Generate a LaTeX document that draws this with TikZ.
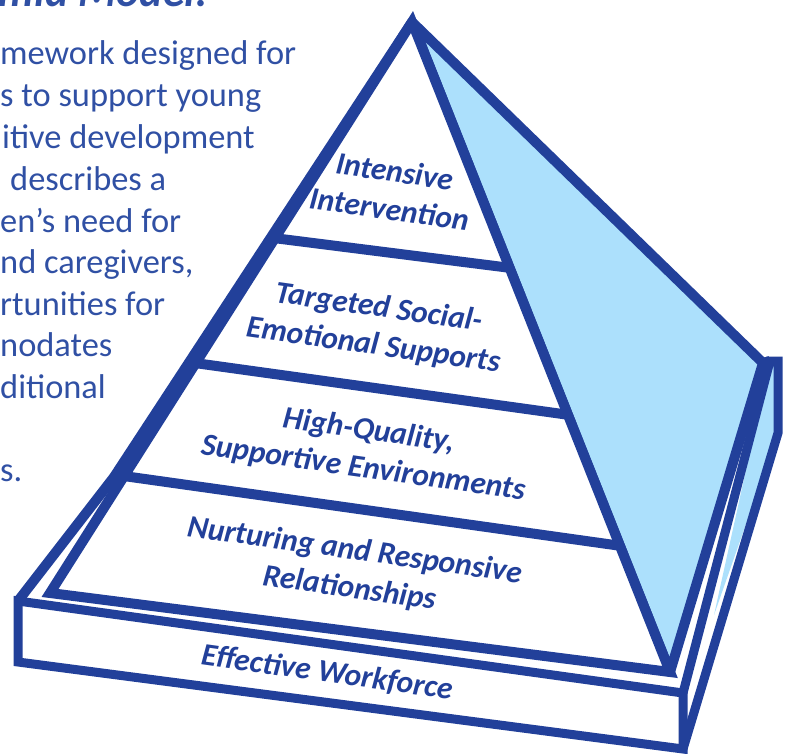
\documentclass[tikz,border=0pt]{standalone}
\usepackage{fontspec}
\setmainfont{Carlito}[Ligatures=Common]
\definecolor{pblue}{RGB}{34,64,154}
\definecolor{sky}{RGB}{172,224,252}
\definecolor{tblue}{RGB}{48,80,164}
\tikzset{edge/.style = {draw = pblue, line width = 10pt, line join = round},
  slab/.style = {draw = pblue, line width = 9pt, line join = miter},
  tier/.style = {pblue, font = \fontsize{31.5}{38}\selectfont\bfseries\itshape, align = center, rotate = -8, inner sep = 0},
  para/.style = {tblue, font = \fontsize{34.4}{40}\selectfont, anchor = base west, inner sep = 0},
  head/.style = {tblue, font = \fontsize{44}{44}\selectfont\bfseries\itshape, anchor = base east, inner sep = 0}}

\begin{document}
\begin{tikzpicture}[x = 1pt, y = -1pt]

      \useasboundingbox (0, 0) rectangle (789, 754);
      \clip (0, 0) rectangle (789, 754);

      \node [head] (title) at (208, 7) {Pyramid Model:};
      \foreach \xx/\yy/\txt [count = \i] in {0/65/mework designed for, 0/107/s to support young,
        2/149/itive development, 10/190/describes a, 0/232/en’s need for, 0/273/{nd caregivers,},
        0/315/rtunities for, 0/356/nodates, 0/398/ditional, 0/481/s.}
        \node [para] (line\i) at (\xx, \yy) {\txt};

      \fill [sky] (770, 361) -- (778, 361) -- (778, 433) -- (714, 615) -- cycle;
      \filldraw [slab, fill = white] (18, 601) -- (683, 693) -- (683, 749) -- (18, 662) -- cycle;
      \draw [slab] (683, 693) -- (770, 361) -- (778, 361) -- (778, 433) -- (683, 749);
      \draw [edge] (412, 22) -- (114, 477) -- (18, 601);

      \filldraw [edge, fill = sky] (412, 22) -- (763, 363) -- (670, 672) -- cycle;
      \draw [edge] (763, 363) -- (770, 361);
      \fill [white] (412, 22) -- (50, 593) -- (670, 672) -- cycle;
      \draw [edge] (273.5, 238) -- (511, 268);
      \draw [edge] (194.8, 363) -- (569.6, 415);
      \draw [edge] (123.6, 476) -- (621.6, 546);
      \draw [edge, line join = miter] (412, 22) -- (50, 593) -- (670, 672) -- cycle;

      \node [tier] (top) at (392, 190) {Intensive\\Intervention};
      \node [tier] (targeted) at (376, 327) {Targeted Social-\\Emotional Supports};
      \node [tier] (universal) at (366, 450) {High-Quality,\\Supportive Environments};
      \node [tier] (base) at (352, 570) {Nurturing and Responsive\\Relationships};
      \node [tier] (workforce) at (327, 673) {Effective Workforce};

    \end{tikzpicture}
\end{document}
